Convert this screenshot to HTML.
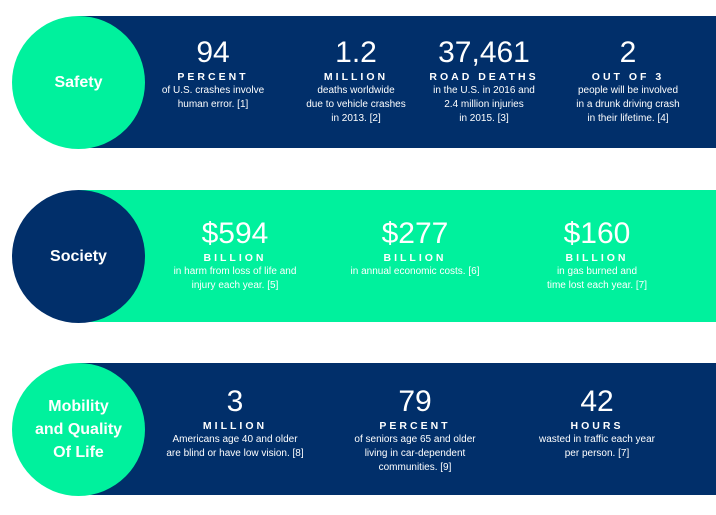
<!DOCTYPE html>
<html><head><meta charset="utf-8"><style>
*{margin:0;padding:0;box-sizing:border-box}
body{width:716px;height:515px;background:#fff;font-family:"Liberation Sans",sans-serif;position:relative;overflow:hidden}
.band{position:absolute;left:78px;width:638px;height:132px}
.circ{position:absolute;width:133px;height:133px;border-radius:50%;display:flex;align-items:center;justify-content:center;text-align:center;color:#fff;font-weight:bold;font-size:16px;line-height:23px}
.navy{background:#012f6a}.green{background:#00f19d}
.col{position:absolute;width:150px;margin-left:-75px;text-align:center;color:#fff}
.n{font-size:30px;line-height:30px;font-weight:normal}
.l{font-size:10.5px;font-weight:bold;letter-spacing:3px;line-height:13px;margin-top:3px}
.d{font-size:10px;line-height:14px}
</style></head><body>
<div class="band navy" style="top:16px"></div>
<div class="circ green" style="left:12px;top:16px">Safety</div>
<div class="col" style="left:213px;top:38px"><div class="n">94</div><div class="l">PERCENT</div><div class="d">of U.S. crashes involve<br>human error. [1]</div></div>
<div class="col" style="left:356px;top:38px"><div class="n">1.2</div><div class="l">MILLION</div><div class="d">deaths worldwide<br>due to vehicle crashes<br>in 2013. [2]</div></div>
<div class="col" style="left:484px;top:38px"><div class="n">37,461</div><div class="l">ROAD DEATHS</div><div class="d">in the U.S. in 2016 and<br>2.4 million injuries<br>in 2015. [3]</div></div>
<div class="col" style="left:628px;top:38px"><div class="n">2</div><div class="l">OUT OF 3</div><div class="d">people will be involved<br>in a drunk driving crash<br>in their lifetime. [4]</div></div>

<div class="band green" style="top:190px"></div>
<div class="circ navy" style="left:12px;top:190px">Society</div>
<div class="col" style="left:235px;top:219px"><div class="n">$594</div><div class="l">BILLION</div><div class="d">in harm from loss of life and<br>injury each year. [5]</div></div>
<div class="col" style="left:415px;top:219px"><div class="n">$277</div><div class="l">BILLION</div><div class="d">in annual economic costs. [6]</div></div>
<div class="col" style="left:597px;top:219px"><div class="n">$160</div><div class="l">BILLION</div><div class="d">in gas burned and<br>time lost each year. [7]</div></div>

<div class="band navy" style="top:363px"></div>
<div class="circ green" style="left:12px;top:363px">Mobility<br>and Quality<br>Of Life</div>
<div class="col" style="left:235px;top:387px"><div class="n">3</div><div class="l">MILLION</div><div class="d">Americans age 40 and older<br>are blind or have low vision. [8]</div></div>
<div class="col" style="left:415px;top:387px"><div class="n">79</div><div class="l">PERCENT</div><div class="d">of seniors age 65 and older<br>living in car-dependent<br>communities. [9]</div></div>
<div class="col" style="left:597px;top:387px"><div class="n">42</div><div class="l">HOURS</div><div class="d">wasted in traffic each year<br>per person. [7]</div></div>
</body></html>
